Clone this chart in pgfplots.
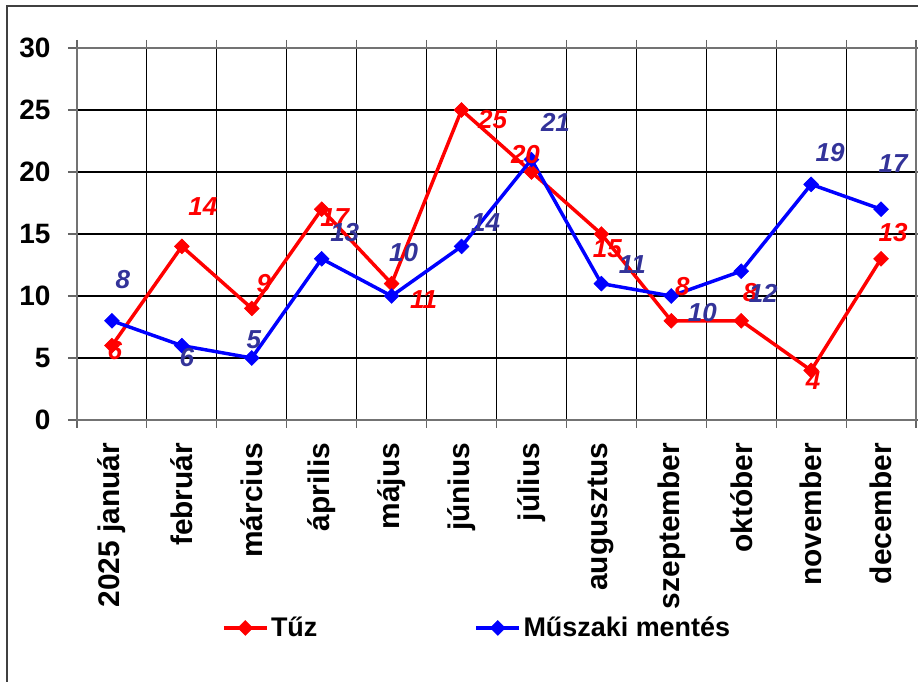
\documentclass[border=0pt]{standalone}
\usepackage{pgfplots}
\pgfplotsset{compat=1.18}
\usepackage{pgfplotstable}
\usepackage{fontspec}
\setmainfont{Liberation Sans}

\definecolor{tuz}{RGB}{255,0,0}
\definecolor{muszaki}{RGB}{0,0,255}
\definecolor{lblblue}{RGB}{51,51,153}

% values, plus label offsets in px (dx right, dy up)
\pgfplotstableread{
x y dx dy
0 6 3 -5
1 14 21 40
2 9 12 25
3 17 13 -8
4 11 32 -16
5 25 31 -10
6 20 -6 17
7 15 6 -15
8 8 11 34
9 8 9 28
10 4 2 -10
11 13 12 26
}\tuzdata

\pgfplotstableread{
x y dx dy
0 8 11 41
1 6 5 -12
2 5 2 18
3 13 23 26
4 10 12 43
5 14 24 24
6 21 24 37
7 11 31 19
8 10 31 -17
9 12 22 -22
10 19 19 32
11 17 12 46
}\muszakidata

\begin{document}
\begin{tikzpicture}[x=1pt,y=1pt]
\useasboundingbox (0,0) rectangle (688.5,511.5);
\draw[line width=1.1pt, black!75] (5.25,-5) -- (5.25,507) -- (700,507);
\begin{axis}[
    at={(57.75pt,196.5pt)}, anchor=south west,
    scale only axis, width=629.25pt, height=279pt,
    clip=false,
    xmin=-0.5, xmax=11.5, ymin=0, ymax=30,
    xtick={0,...,11},
    xticklabels={2025 január, február, március, április, május, június,
                 július, augusztus, szeptember, október, november, december},
    minor xtick={-0.5,0.5,...,11.5},
    xmajorgrids=false, xminorgrids=true,
    ytick={0,5,...,30}, ymajorgrids=true,
    grid style={black, line width=0.8pt},
    minor grid style={black, line width=0.8pt},
    axis line style={black!55, line width=1pt},
    tick align=outside,
    major tick length=6.75pt, minor tick length=6pt,
    major x tick style={draw=none},
    tick style={black!60, line width=0.8pt},
    /pgf/number format/assume math mode=true,
    yticklabel style={font=\fontsize{21}{21}\selectfont\bfseries, inner xsep=13pt},
    xticklabel style={rotate=90, anchor=east, font=\fontsize{22.4}{22.4}\selectfont\bfseries},
    xticklabel shift=7pt,
    legend style={draw=none, fill=none, at={(0.168,-0.559)}, anchor=west,
        font=\fontsize{20.2}{20.2}\selectfont\bfseries,
        /tikz/every even column/.append style={column sep=116pt}},
    legend columns=2,
    legend image code/.code={
        \draw[mark repeat=2, mark phase=2] plot coordinates {(0pt,0pt) (16pt,0pt) (32pt,0pt)};},
    every axis plot/.append style={line width=2.6pt, mark=square*, mark size=3.9pt},
    nodes near coords style={anchor=center, xshift=\dx*0.75pt, yshift=\dy*0.75pt,
        font=\fontsize{19.5}{19.5}\selectfont\bfseries\itshape},
]
\addplot[tuz, mark options={fill=tuz, solid, rotate=45, line width=0.5pt}]
    table[x=x, y=y] {\tuzdata};
\addlegendentry{Tűz}
\addplot[muszaki, mark options={fill=muszaki, solid, rotate=45, line width=0.5pt}]
    table[x=x, y=y] {\muszakidata};
\addlegendentry{Műszaki mentés}

\addplot[draw=none, mark=none, forget plot, nodes near coords,
    visualization depends on={\thisrow{dx}\as\dx},
    visualization depends on={\thisrow{dy}\as\dy},
    nodes near coords style={text=tuz}] table[x=x, y=y] {\tuzdata};
\addplot[draw=none, mark=none, forget plot, nodes near coords,
    visualization depends on={\thisrow{dx}\as\dx},
    visualization depends on={\thisrow{dy}\as\dy},
    nodes near coords style={text=lblblue}] table[x=x, y=y] {\muszakidata};
\end{axis}
\end{tikzpicture}
\end{document}
